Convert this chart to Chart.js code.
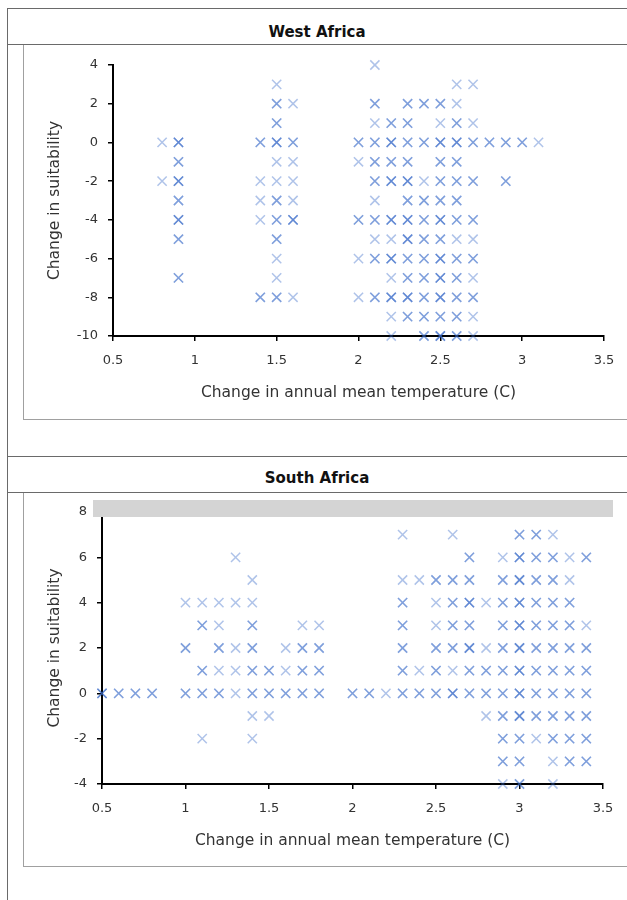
<!DOCTYPE html>
<html>
<head>
<meta charset="utf-8">
<script src="https://cdn.jsdelivr.net/npm/chart.js@4/dist/chart.umd.min.js"></script>
<style>
  body { margin: 0; background: #fff; font-family: 'DejaVu Sans', sans-serif; }
  #page { position: relative; width: 627px; height: 900px; overflow: hidden; }
  .line { position: absolute; background: #6a6a6a; }
  .title { position: absolute; left: 7px; width: 620px; height: 18px; line-height: 18px;
           text-align: center; font-weight: bold; font-size: 15px; color: #111; }
  .frame { position: absolute; left: 23px; width: 620px;
           border-left: 1px solid #a0a0a0; border-bottom: 1px solid #a0a0a0; }
  canvas { position: absolute; }
</style>
</head>
<body>
<div id="page">
  <div class="line" style="left:7px;top:8px;width:620px;height:1px"></div>
  <div class="line" style="left:7px;top:8px;width:1px;height:892px"></div>
  <div class="title" style="top:23px">West Africa</div>
  <div class="line" style="left:7px;top:44px;width:620px;height:1px"></div>
  <div class="frame" style="top:45px;height:374px"></div>
  <div class="line" style="left:7px;top:456px;width:620px;height:1px"></div>
  <div class="title" style="top:469px">South Africa</div>
  <div class="line" style="left:7px;top:492px;width:620px;height:1px"></div>
  <div class="frame" style="top:493px;height:373px"></div>
  <canvas id="west" style="left:24px;top:45px" width="603" height="374"></canvas>
  <canvas id="south" style="left:24px;top:493px" width="603" height="373"></canvas>
</div>
<script>
// temperature change (C), suitability change, number of runs at that spot
const westPoints = [
  [0.8, 0, 1], [0.8, -2, 1],
  [0.9, 0, 3], [0.9, -1, 2], [0.9, -2, 3], [0.9, -3, 2], [0.9, -4, 3], [0.9, -5, 2], [0.9, -7, 2],
  [1.4, 0, 2], [1.4, -2, 1], [1.4, -3, 1], [1.4, -4, 1], [1.4, -8, 2],
  [1.5, 3, 1], [1.5, 2, 2], [1.5, 1, 2], [1.5, 0, 3], [1.5, -1, 1], [1.5, -2, 1], [1.5, -3, 2],
  [1.5, -4, 2], [1.5, -5, 2], [1.5, -6, 1], [1.5, -7, 1], [1.5, -8, 2],
  [1.6, 2, 1], [1.6, 0, 2], [1.6, -1, 1], [1.6, -2, 1], [1.6, -3, 1], [1.6, -4, 3], [1.6, -8, 1],
  [2.0, 0, 2], [2.0, -1, 1], [2.0, -4, 2], [2.0, -6, 1], [2.0, -8, 1],
  [2.1, 4, 1], [2.1, 2, 2], [2.1, 1, 1], [2.1, 0, 2], [2.1, -1, 2], [2.1, -2, 2], [2.1, -3, 1],
  [2.1, -4, 2], [2.1, -5, 1], [2.1, -6, 2], [2.1, -8, 2],
  [2.2, 1, 2], [2.2, 0, 3], [2.2, -1, 2], [2.2, -2, 3], [2.2, -4, 3], [2.2, -5, 1], [2.2, -6, 3],
  [2.2, -7, 1], [2.2, -8, 3], [2.2, -9, 1], [2.2, -10, 1],
  [2.3, 2, 2], [2.3, 1, 2], [2.3, 0, 2], [2.3, -1, 2], [2.3, -2, 3], [2.3, -3, 2], [2.3, -4, 3],
  [2.3, -5, 3], [2.3, -6, 2], [2.3, -7, 2], [2.3, -8, 3], [2.3, -9, 2],
  [2.4, 2, 2], [2.4, 0, 2], [2.4, -2, 1], [2.4, -3, 2], [2.4, -4, 2], [2.4, -5, 2], [2.4, -6, 2],
  [2.4, -7, 2], [2.4, -8, 2], [2.4, -9, 2], [2.4, -10, 2],
  [2.5, 2, 2], [2.5, 1, 1], [2.5, 0, 3], [2.5, -1, 2], [2.5, -2, 2], [2.5, -3, 2], [2.5, -4, 3],
  [2.5, -5, 2], [2.5, -6, 3], [2.5, -7, 3], [2.5, -8, 3], [2.5, -9, 2], [2.5, -10, 3],
  [2.6, 3, 1], [2.6, 2, 1], [2.6, 1, 2], [2.6, 0, 3], [2.6, -1, 2], [2.6, -2, 2], [2.6, -3, 2],
  [2.6, -4, 2], [2.6, -5, 1], [2.6, -6, 2], [2.6, -7, 2], [2.6, -8, 2], [2.6, -9, 2], [2.6, -10, 2],
  [2.7, 3, 1], [2.7, 1, 1], [2.7, 0, 2], [2.7, -2, 2], [2.7, -4, 2], [2.7, -5, 1], [2.7, -6, 2],
  [2.7, -7, 1], [2.7, -8, 2], [2.7, -9, 1], [2.7, -10, 1],
  [2.8, 0, 2], [2.9, 0, 2], [2.9, -2, 2], [3.0, 0, 2], [3.1, 0, 1]
];

const southPoints = [
  [0.5, 0, 3], [0.6, 0, 2], [0.7, 0, 2], [0.8, 0, 2],
  [1.0, 4, 1], [1.0, 2, 2], [1.0, 0, 2],
  [1.1, 4, 1], [1.1, 3, 2], [1.1, 1, 2], [1.1, 0, 2], [1.1, -2, 1],
  [1.2, 4, 1], [1.2, 3, 1], [1.2, 2, 2], [1.2, 1, 1], [1.2, 0, 2],
  [1.3, 6, 1], [1.3, 4, 1], [1.3, 2, 1], [1.3, 1, 1], [1.3, 0, 1],
  [1.4, 5, 1], [1.4, 4, 1], [1.4, 3, 2], [1.4, 2, 2], [1.4, 1, 2], [1.4, 0, 2], [1.4, -1, 1], [1.4, -2, 1],
  [1.5, 1, 2], [1.5, 0, 2], [1.5, -1, 1],
  [1.6, 2, 1], [1.6, 1, 1], [1.6, 0, 2],
  [1.7, 3, 1], [1.7, 2, 2], [1.7, 1, 2], [1.7, 0, 2],
  [1.8, 3, 1], [1.8, 2, 2], [1.8, 1, 2], [1.8, 0, 2],
  [2.0, 0, 2], [2.1, 0, 2], [2.2, 0, 1],
  [2.3, 7, 1], [2.3, 5, 1], [2.3, 4, 2], [2.3, 3, 2], [2.3, 2, 2], [2.3, 1, 2], [2.3, 0, 2],
  [2.4, 5, 1], [2.4, 1, 1], [2.4, 0, 2],
  [2.5, 5, 2], [2.5, 4, 1], [2.5, 3, 1], [2.5, 2, 2], [2.5, 1, 2], [2.5, 0, 2],
  [2.6, 7, 1], [2.6, 5, 2], [2.6, 4, 2], [2.6, 3, 2], [2.6, 2, 2], [2.6, 1, 1], [2.6, 0, 3],
  [2.7, 6, 2], [2.7, 5, 2], [2.7, 4, 3], [2.7, 3, 2], [2.7, 2, 3], [2.7, 1, 2], [2.7, 0, 2],
  [2.8, 4, 1], [2.8, 2, 1], [2.8, 1, 2], [2.8, 0, 2], [2.8, -1, 1],
  [2.9, 6, 1], [2.9, 5, 2], [2.9, 4, 2], [2.9, 3, 2], [2.9, 2, 2], [2.9, 1, 2], [2.9, 0, 2],
  [2.9, -1, 2], [2.9, -2, 2], [2.9, -3, 2], [2.9, -4, 1],
  [3.0, 7, 2], [3.0, 6, 3], [3.0, 5, 3], [3.0, 4, 3], [3.0, 3, 3], [3.0, 2, 3], [3.0, 1, 3],
  [3.0, 0, 3], [3.0, -1, 3], [3.0, -2, 2], [3.0, -3, 2], [3.0, -4, 2],
  [3.1, 7, 2], [3.1, 6, 2], [3.1, 5, 2], [3.1, 4, 2], [3.1, 3, 2], [3.1, 2, 2], [3.1, 1, 2],
  [3.1, 0, 2], [3.1, -1, 2], [3.1, -2, 1],
  [3.2, 7, 1], [3.2, 6, 2], [3.2, 5, 2], [3.2, 4, 2], [3.2, 3, 2], [3.2, 2, 2], [3.2, 1, 2],
  [3.2, 0, 2], [3.2, -1, 2], [3.2, -2, 2], [3.2, -3, 1], [3.2, -4, 1],
  [3.3, 6, 1], [3.3, 5, 1], [3.3, 4, 2], [3.3, 3, 2], [3.3, 2, 2], [3.3, 1, 2], [3.3, 0, 2],
  [3.3, -1, 2], [3.3, -2, 2], [3.3, -3, 2],
  [3.4, 6, 2], [3.4, 3, 1], [3.4, 2, 2], [3.4, 1, 2], [3.4, 0, 2], [3.4, -1, 2], [3.4, -2, 2], [3.4, -3, 2]
];

const xTicks = [0.5, 1, 1.5, 2, 2.5, 3, 3.5];
const westYTicks = [4, 2, 0, -2, -4, -6, -8, -10];
const southYTicks = [8, 6, 4, 2, 0, -2, -4];

Chart.defaults.font.family = "'DejaVu Sans', sans-serif";
Chart.defaults.color = '#333';

// each run is drawn on its own, so repeated spots come out darker
function expand(points) {
  let out = [];
  points.forEach(p => {
    for (let i = 0; i < p[2]; i++) out.push({x: p[0], y: p[1]});
  });
  return out;
}

const bandPlugin = {
  id: 'band',
  afterDraw(chart) {
    if (!chart.options.plugins.band || !chart.options.plugins.band.show) return;
    const {ctx, chartArea, scales} = chart;
    const y8 = scales.y.getPixelForValue(8);
    ctx.save();
    ctx.fillStyle = '#d4d4d4';
    ctx.fillRect(chartArea.left - 9, y8 - 12, chartArea.right - chartArea.left + 19, 17);
    ctx.restore();
  }
};

function makeChart(id, points, yTicks, cfg) {
  const ctx = document.getElementById(id);
  return new Chart(ctx, {
    type: 'scatter',
    data: {
      datasets: [{
        data: expand(points),
        pointStyle: 'crossRot',
        pointRadius: 6.5,
        pointBorderWidth: 1.5,
        borderColor: 'rgba(55, 105, 200, 0.4)',
        backgroundColor: 'rgba(55, 105, 200, 0.4)',
        clip: false
      }]
    },
    options: {
      responsive: false,
      animation: false,
      layout: { padding: { top: cfg.top, right: cfg.right, left: 0, bottom: 0 } },
      scales: {
        x: {
          type: 'linear',
          min: 0.5,
          max: 3.5,
          afterBuildTicks: s => { s.ticks = xTicks.map(v => ({value: v})) },
          afterFit: s => {
            s.height = cfg.xAxisH;
            s.paddingLeft = 0; s.paddingRight = 0;
          },
          border: { color: '#000', width: 2 },
          grid: { drawOnChartArea: false, tickLength: 5, color: '#000', lineWidth: 1.5 },
          ticks: { padding: 12, color: '#333', font: { size: 13 }, callback: v => String(v) },
          title: {
            display: true,
            text: 'Change in annual mean temperature (C)',
            color: '#333',
            font: { size: 15.5 },
            padding: { top: 0, bottom: cfg.xTitlePad }
          }
        },
        y: {
          type: 'linear',
          min: yTicks[yTicks.length - 1],
          max: yTicks[0],
          afterBuildTicks: s => { s.ticks = yTicks.map(v => ({value: v})) },
          afterFit: s => {
            s.width = cfg.yAxisW;
            s.paddingTop = 0; s.paddingBottom = 0;
          },
          border: { color: '#000', width: 2 },
          grid: { drawOnChartArea: false, tickLength: 5, color: '#000', lineWidth: 1.5 },
          ticks: { padding: 10, color: '#333', font: { size: 13 }, callback: v => String(v) },
          title: {
            display: true,
            text: 'Change in suitability',
            color: '#333',
            font: { size: 15.5 },
            padding: { top: 22, bottom: 0 }
          }
        }
      },
      plugins: {
        legend: { display: false },
        tooltip: { enabled: false },
        band: { show: cfg.band }
      }
    },
    plugins: [bandPlugin]
  });
}

makeChart('west', westPoints, westYTicks, { top: 20, right: 23, xAxisH: 83, yAxisW: 89, xTitlePad: 17, band: false });
makeChart('south', southPoints, southYTicks, { top: 19, right: 24, xAxisH: 82, yAxisW: 78, xTitlePad: 16, band: true });
</script>
</body>
</html>
